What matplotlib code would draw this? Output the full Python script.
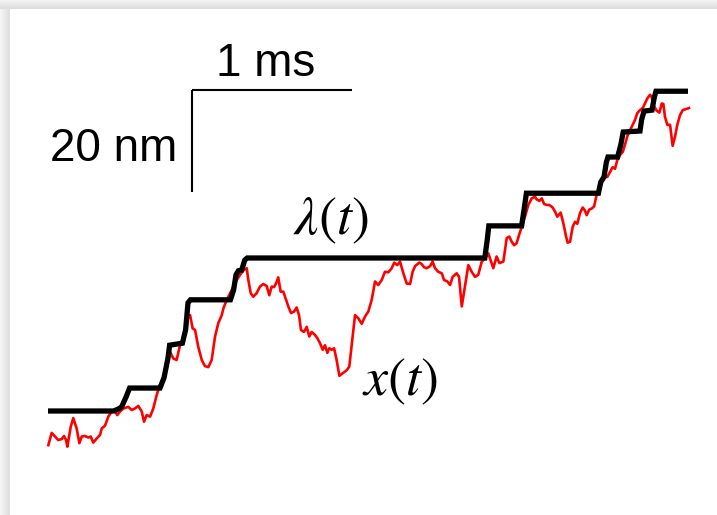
import matplotlib.pyplot as plt
from matplotlib.patches import Rectangle

plt.rcParams['mathtext.fontset'] = 'stix'
plt.rcParams['font.family'] = ['Liberation Sans', 'DejaVu Sans']

# lambda(t): trap position, ms / nm
lam_t = [0, 0.41, 0.44, 0.46, 0.49, 0.51, 0.70, 0.725, 0.75, 0.76,
         0.84, 0.86, 0.875, 0.89, 1.14, 1.16, 1.175, 1.19, 1.21, 1.23,
         1.245, 2.73, 2.745, 2.755, 2.96, 2.975, 2.99, 3.44, 3.455, 3.475,
         3.49, 3.50, 3.56, 3.58, 3.595, 3.70, 3.71, 3.725, 3.775, 3.79,
         3.80, 4.0]
lam_x = [0, 0, 0.4, 0.8, 2.9, 4.5, 4.5, 6.5, 10.4, 12.9,
         13.3, 15.9, 21.2, 21.8, 21.8, 23.7, 26.7, 27.5, 27.6, 29.6,
         30.0, 30.0, 33.5, 36.3, 36.3, 39.4, 42.7, 42.7, 44.9, 45.9,
         48.8, 49.8, 49.8, 52.2, 54.7, 54.9, 57.1, 58.8, 59.0, 61.6,
         62.7, 62.7]

# x(t): bead position, ms / nm
x_t = [0.002, 0.023, 0.044, 0.064, 0.086, 0.100, 0.113, 0.121, 0.142, 0.158,
       0.179, 0.196, 0.211, 0.231, 0.252, 0.267, 0.283, 0.304, 0.325, 0.336,
       0.356, 0.377, 0.398, 0.419, 0.433, 0.450, 0.471, 0.502, 0.523, 0.544,
       0.564, 0.586, 0.600, 0.617, 0.638, 0.658, 0.679, 0.700, 0.721, 0.742,
       0.763, 0.783, 0.804, 0.825, 0.846, 0.867, 0.888, 0.904, 0.919, 0.939,
       0.961, 0.981, 1.002, 1.023, 1.044, 1.064, 1.086, 1.096, 1.117, 1.148,
       1.179, 1.221, 1.242, 1.252, 1.267, 1.283, 1.304, 1.325, 1.346, 1.367,
       1.383, 1.398, 1.413, 1.425, 1.439, 1.454, 1.471, 1.488, 1.502, 1.519,
       1.538, 1.554, 1.569, 1.581, 1.600, 1.617, 1.633, 1.648, 1.669, 1.683,
       1.700, 1.717, 1.731, 1.746, 1.758, 1.773, 1.788, 1.804, 1.821, 1.842,
       1.867, 1.883, 1.904, 1.919, 1.939, 1.961, 1.981, 2.002, 2.023, 2.044,
       2.064, 2.086, 2.106, 2.127, 2.148, 2.164, 2.183, 2.200, 2.221, 2.242,
       2.263, 2.279, 2.294, 2.321, 2.336, 2.350, 2.367, 2.388, 2.404, 2.419,
       2.439, 2.461, 2.475, 2.496, 2.513, 2.529, 2.554, 2.569, 2.586, 2.606,
       2.627, 2.648, 2.669, 2.689, 2.711, 2.731, 2.752, 2.783, 2.804, 2.821,
       2.846, 2.867, 2.883, 2.898, 2.913, 2.929, 2.946, 2.961, 2.981, 3.002,
       3.023, 3.044, 3.054, 3.071, 3.086, 3.100, 3.117, 3.133, 3.154, 3.169,
       3.183, 3.204, 3.221, 3.238, 3.248, 3.263, 3.279, 3.294, 3.308, 3.325,
       3.342, 3.356, 3.367, 3.383, 3.398, 3.413, 3.429, 3.446, 3.467, 3.481,
       3.496, 3.513, 3.529, 3.544, 3.558, 3.575, 3.592, 3.606, 3.621, 3.638,
       3.654, 3.669, 3.683, 3.700, 3.717, 3.731, 3.746, 3.763, 3.773, 3.783,
       3.804, 3.821, 3.836, 3.846, 3.856, 3.871, 3.888, 3.904, 3.919, 3.933,
       3.950, 3.967, 4.006]
x_nm = [-6.7, -4.3, -5.0, -5.7, -5.5, -4.9, -5.7, -7.0, -3.1, -1.4,
        -3.4, -6.3, -5.0, -4.9, -5.2, -5.0, -6.2, -5.4, -4.7, -3.4,
        -2.9, -1.1, -0.1, -0.1, -0.8, -0.1, 0.5, 0.8, 0.2, 0.5,
        1.0, -0.1, -2.1, -0.8, -1.1, 0.5, 3.1, 5.1, 6.7, 9.4,
        11.6, 10.3, 10.0, 12.9, 14.3, 17.8, 18.8, 16.2, 15.9, 12.6,
        10.0, 8.8, 8.6, 10.0, 14.6, 17.2, 18.8, 20.1, 21.8, 23.7,
        25.7, 27.6, 28.0, 25.7, 23.1, 22.4, 23.1, 24.4, 24.9, 24.5,
        22.7, 24.4, 24.3, 25.0, 26.2, 23.4, 23.4, 21.8, 20.5, 19.2,
        19.5, 20.3, 18.8, 15.9, 15.5, 16.5, 14.6, 15.5, 14.9, 14.3,
        13.3, 12.0, 12.9, 11.4, 12.3, 12.0, 12.3, 10.0, 6.9, 7.4,
        8.0, 8.7, 14.6, 18.8, 18.2, 17.1, 18.5, 19.5, 21.8, 25.4,
        24.7, 25.7, 27.3, 27.2, 28.0, 29.1, 28.6, 29.3, 27.0, 25.0,
        24.9, 27.3, 28.4, 29.1, 28.8, 28.2, 28.0, 28.4, 29.3, 28.0,
        27.3, 27.0, 25.7, 25.4, 24.7, 26.3, 27.0, 26.3, 20.5, 24.4,
        28.6, 27.3, 26.3, 26.7, 29.3, 29.9, 30.9, 28.0, 30.3, 29.0,
        29.3, 33.9, 34.2, 33.2, 32.5, 32.9, 34.7, 36.1, 38.1, 40.4,
        41.7, 42.0, 41.5, 41.2, 41.7, 40.6, 40.4, 40.4, 39.9, 39.1,
        38.1, 38.9, 36.8, 34.2, 33.0, 33.2, 36.1, 37.1, 36.7, 38.8,
        39.9, 39.3, 38.4, 39.5, 39.7, 40.1, 42.4, 44.0, 45.3, 45.9,
        45.9, 46.9, 47.8, 47.5, 49.2, 50.2, 50.8, 52.2, 53.9, 55.1,
        56.1, 57.1, 58.4, 59.0, 59.4, 60.3, 61.3, 62.0, 61.6, 60.0,
        58.9, 58.5, 60.3, 60.2, 57.7, 56.1, 56.1, 52.0, 53.8, 56.1,
        58.0, 59.0, 59.4]

bar_ms = 1.0
bar_nm = 20.0

fig = plt.figure(figsize=(7.17, 5.15), dpi=100)
fig.patch.set_facecolor('white')

# card shadow along top and left edges
W, H = 717.0, 515.0
for i in range(9):
    g = 0.95 - 0.08 * i / 8
    fig.patches.append(Rectangle((0, (H - 1 - i) / H), 1, 1 / H, transform=fig.transFigure,
                                 color=str(g), lw=0, zorder=0))
for i in range(10):
    g = 0.96 - 0.09 * i / 9
    fig.patches.append(Rectangle((i / W, 0), 1 / W, (H - 9) / H, transform=fig.transFigure,
                                 color=str(g), lw=0, zorder=0))

ax = fig.add_axes([0, 0, 1, 1])
ax.patch.set_alpha(0)
ax.set_xlim(-0.3, 4.18125)
ax.set_ylim(-20.392, 80.588)
ax.axis('off')

ax.plot(x_t, x_nm, color='red', lw=1.9, solid_joinstyle='round')
ax.plot(lam_t, lam_x, color='black', lw=3.8, solid_joinstyle='miter', solid_capstyle='butt')

# scale bar
sx, sy = 0.9, 62.9
ax.plot([sx, sx + bar_ms], [sy, sy], color='black', lw=1.5, solid_capstyle='butt')
ax.plot([sx, sx], [sy, sy - bar_nm], color='black', lw=1.5, solid_capstyle='butt')
ax.text(1.3625, 65.6, '1 ms', ha='center', va='baseline', fontsize=33)
ax.text(0.81, 49.0, '20 nm', ha='right', va='baseline', fontsize=33)

ax.text(1.769, 37.3, r'$\lambda(t)$', ha='center', va='center', fontsize=39)
ax.text(2.2, 5.7, r'$x(t)$', ha='center', va='center', fontsize=39)

fig.savefig('out.png', dpi=100)
